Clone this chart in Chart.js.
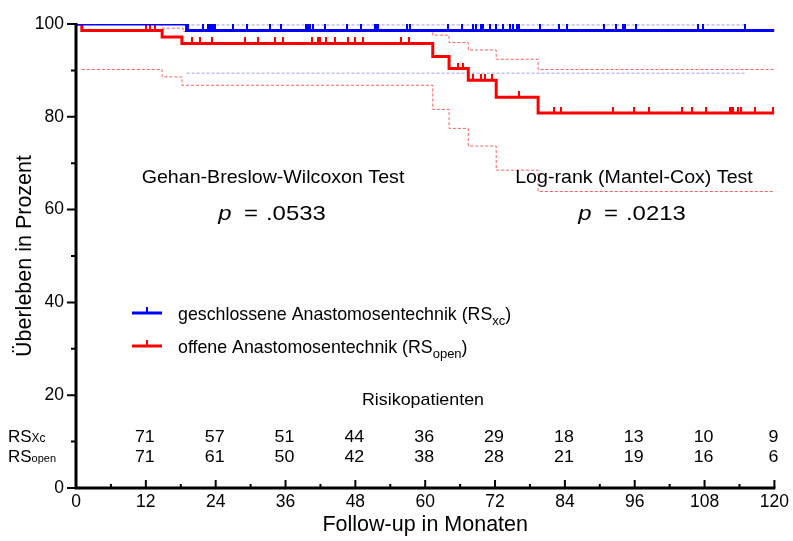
<!DOCTYPE html>
<html lang="de">
<head>
<meta charset="UTF-8">
<title>Überleben RSxc vs RSopen</title>
<script src="https://cdn.jsdelivr.net/npm/chart.js"></script>
<style>
    body { margin: 0; padding: 0; background: #fff; }
    #wrap { width: 793px; height: 541px; }
</style>
</head>
<body>
<div id="wrap"><canvas id="kmChart" width="793" height="541"></canvas></div>
<script>
// Kaplan-Meier Stufen (Monat, Überleben %)
const xcSurvival = [[0, 100], [19, 98.6], [120, 98.6]];
const xcUpperCI = [[19, 99.8], [115, 99.8]];
const xcLowerCI = [[19, 89.4], [115, 89.4]];
const xcCensored = [3, 14.7, 15.1, 15.5, 17.6, 19.3, 21.9, 22.7, 23.0, 23.3, 23.6, 23.9, 27.0, 29.3, 33.3, 35.3,
    39.6, 39.9, 40.2, 40.7, 42.7, 46.5, 49.0, 51.3, 51.6, 51.9, 56.8, 57.4, 63.9, 66.4, 68.2, 68.7, 69.6, 69.9,
    71.1, 72.2, 73.4, 74.5, 75.1, 75.7, 76.2, 79.7, 83.0, 84.3, 90.8, 92.8, 94.0, 94.3, 96.3, 106.8, 107.7, 115.0];

const openSurvival = [[0, 100], [1, 98.6], [14.8, 97.2], [18.2, 95.8], [61.3, 93.0], [64.1, 90.4],
    [67.4, 87.9], [72.2, 84.2], [79.4, 80.8], [120, 80.8]];
const openUpperCI = [[0, 100], [14.8, 99.1], [18.4, 98.4], [61.3, 97.6], [64.1, 96.0], [67.4, 94.4],
    [72.2, 92.4], [79.4, 90.2], [120, 90.2]];
const openLowerCI = [[1, 90.2], [14.8, 88.6], [18.2, 86.8], [61.3, 81.6], [64.1, 77.5], [67.4, 73.7],
    [72.2, 68.5], [79.4, 63.9], [120, 63.9]];
const openCensored = [12.1, 12.7, 13.6, 19.9, 21.3, 23.3, 29.0, 31.3, 34.2, 35.6, 40.5, 41.6, 41.9, 43.0, 44.5,
    46.7, 47.9, 49.3, 55.9, 57.3, 65.6, 66.5, 68.2, 69.6, 70.2, 71.4, 76.2, 82.2, 83.4, 92.2, 95.8, 98.5,
    104.2, 105.9, 108.3, 112.3, 112.6, 112.9, 113.7, 114.3, 116.6, 119.8];

// Risikopatienten
const riskMonths = [12, 24, 36, 48, 60, 72, 84, 96, 108, 120];
const riskXc = [71, 57, 51, 44, 36, 29, 18, 13, 10, 9];
const riskOpen = [71, 61, 50, 42, 38, 28, 21, 19, 16, 6];

const FONT = "'Liberation Sans', Arial, sans-serif";
const BLUE = '#0000ff';
const RED = '#ff0000';

const toPts = arr => arr.map(([x, y]) => ({ x, y }));

// Überleben zum Zeitpunkt t (Stufenfunktion)
const survivalAt = (steps, t) => {
    let v = steps[0][1];
    for (const [x, y] of steps) { if (x <= t) v = y; }
    return v;
};

// Zensur-Strich: nur nach oben
const tickImage = (color) => {
    const c = document.createElement('canvas');
    c.width = 2; c.height = 12;
    const g = c.getContext('2d');
    g.fillStyle = color;
    g.fillRect(0, 0, 2, 6);
    return c;
};

const lineSet = (data, color, width, dash, order) => ({
    data: toPts(data), showLine: true, stepped: 'before', borderColor: color, borderWidth: width,
    borderDash: dash, pointRadius: 0, fill: false, order
});

const censorSet = (times, steps, color, order) => ({
    data: times.map(t => ({ x: t, y: survivalAt(steps, t) })), showLine: false,
    pointStyle: tickImage(color), pointRadius: 6, order
});

// Text mit Tiefstellung, optional leicht gestreckt (sx)
const drawRich = (ctx, parts, x, y, align, sx = 1) => {
    let w = 0;
    parts.forEach(p => {
        ctx.font = (p.italic ? 'italic ' : '') + p.size + 'px ' + FONT;
        w += (ctx.measureText(p.t).width + (p.gap || 0)) * sx;
    });
    let cx = align === 'center' ? x - w / 2 : x;
    ctx.textAlign = 'left';
    parts.forEach(p => {
        ctx.font = (p.italic ? 'italic ' : '') + p.size + 'px ' + FONT;
        ctx.save();
        ctx.translate(cx, y + (p.dy || 0));
        ctx.scale(sx, 1);
        ctx.fillText(p.t, 0, 0);
        ctx.restore();
        cx += (ctx.measureText(p.t).width + (p.gap || 0)) * sx;
    });
};

const decorations = {
    id: 'decorations',
    afterDraw(chart) {
        const ctx = chart.ctx;
        const xs = chart.scales.x, ys = chart.scales.y;
        const x0 = xs.getPixelForValue(0), x1 = xs.getPixelForValue(120);
        const y0 = ys.getPixelForValue(0), y1 = ys.getPixelForValue(100);
        ctx.save();
        ctx.strokeStyle = '#000';
        ctx.fillStyle = '#000';
        // Achsen
        ctx.lineWidth = 3;
        ctx.beginPath();
        ctx.moveTo(x0, y1 - 1); ctx.lineTo(x0, y0 + 1.5);
        ctx.moveTo(x0 - 1.5, y0); ctx.lineTo(x1 + 1, y0);
        ctx.stroke();
        ctx.lineWidth = 2;
        ctx.beginPath();
        for (let v = 0; v <= 100; v += 10) {
            const py = ys.getPixelForValue(v);
            ctx.moveTo(x0 - (v % 20 === 0 ? 9 : 5), py); ctx.lineTo(x0, py);
        }
        for (let m = 6; m <= 120; m += 6) {
            const px = xs.getPixelForValue(m);
            ctx.moveTo(px, y0); ctx.lineTo(px, y0 - (m % 12 === 0 ? 8 : 4));
        }
        ctx.stroke();

        ctx.textBaseline = 'alphabetic';
        // Testbeschriftungen
        drawRich(ctx, [{ t: 'Gehan-Breslow-Wilcoxon Test', size: 18.5 }], 273, 183, 'center', 1.06);
        drawRich(ctx, [{ t: 'p', size: 21, italic: true, gap: 11 }, { t: '=', size: 21, gap: 7 }, { t: '.0533', size: 21 }], 272, 220, 'center', 1.14);
        drawRich(ctx, [{ t: 'Log-rank (Mantel-Cox) Test', size: 18.5 }], 634, 183, 'center', 1.06);
        drawRich(ctx, [{ t: 'p', size: 21, italic: true, gap: 11 }, { t: '=', size: 21, gap: 7 }, { t: '.0213', size: 21 }], 632, 220, 'center', 1.14);

        // Legende
        const legend = [
            { color: BLUE, y: 313, parts: [{ t: 'geschlossene Anastomosentechnik (RS', size: 17.8 }, { t: 'xc', size: 13, dy: 5 }, { t: ')', size: 17.8 }] },
            { color: RED, y: 346, parts: [{ t: 'offene Anastomosentechnik (RS', size: 17.8 }, { t: 'open', size: 13, dy: 5 }, { t: ')', size: 17.8 }] }
        ];
        legend.forEach(l => {
            ctx.strokeStyle = l.color;
            ctx.lineWidth = 3;
            ctx.beginPath(); ctx.moveTo(132, l.y); ctx.lineTo(162, l.y); ctx.stroke();
            ctx.lineWidth = 2;
            ctx.beginPath(); ctx.moveTo(147, l.y); ctx.lineTo(147, l.y - 6); ctx.stroke();
            ctx.fillStyle = '#000';
            drawRich(ctx, l.parts, 178, l.y + 6.5, 'left');
        });

        // Risikotabelle
        drawRich(ctx, [{ t: 'Risikopatienten', size: 17 }], 423, 405, 'center', 1.05);
        drawRich(ctx, [{ t: 'RS', size: 17 }, { t: 'Xc', size: 12 }], 8, 442, 'left');
        drawRich(ctx, [{ t: 'RS', size: 17 }, { t: 'open', size: 11 }], 8, 462, 'left');
        riskMonths.forEach((m, i) => {
            const px = xs.getPixelForValue(m);
            drawRich(ctx, [{ t: String(riskXc[i]), size: 17 }], px - 1, 442, 'center', 1.05);
            drawRich(ctx, [{ t: String(riskOpen[i]), size: 17 }], px - 1, 462, 'center', 1.05);
        });
        ctx.restore();
    }
};

new Chart(document.getElementById('kmChart'), {
    type: 'scatter',
    data: {
        datasets: [
            lineSet(xcSurvival, BLUE, 3, [], 2),
            censorSet(xcCensored, xcSurvival, BLUE, 1),
            lineSet(xcUpperCI, 'rgba(90,90,255,0.6)', 1, [3, 2], 6),
            lineSet(xcLowerCI, 'rgba(90,90,255,0.6)', 1, [3, 2], 6),
            lineSet(openSurvival, RED, 3, [], 4),
            censorSet(openCensored, openSurvival, RED, 3),
            lineSet(openUpperCI, 'rgba(255,40,40,0.75)', 1, [3, 2], 5),
            lineSet(openLowerCI, 'rgba(255,40,40,0.75)', 1, [3, 2], 5)
        ]
    },
    options: {
        responsive: false,
        animation: false,
        events: [],
        layout: { padding: { top: 24, right: 18, left: 0, bottom: 0 } },
        plugins: { legend: { display: false }, tooltip: { enabled: false } },
        scales: {
            x: {
                type: 'linear', min: 0, max: 120,
                grid: { display: false, drawTicks: false },
                border: { display: false },
                ticks: { stepSize: 12, padding: 4, color: '#000', font: { family: FONT, size: 17.5 } },
                title: { display: true, text: 'Follow-up in Monaten', color: '#000', font: { family: FONT, size: 21.5 }, padding: { top: 2, bottom: 3 } },
                afterFit: s => { s.height = 53; }
            },
            y: {
                type: 'linear', min: 0, max: 100,
                grid: { display: false, drawTicks: false },
                border: { display: false },
                ticks: { stepSize: 20, padding: 12, color: '#000', font: { family: FONT, size: 17.5 } },
                title: { display: true, text: 'Überleben in Prozent', color: '#000', font: { family: FONT, size: 21.5 }, padding: { top: 12, bottom: 4 } },
                afterFit: s => { s.width = 76; }
            }
        }
    },
    plugins: [decorations]
});
</script>
</body>
</html>
